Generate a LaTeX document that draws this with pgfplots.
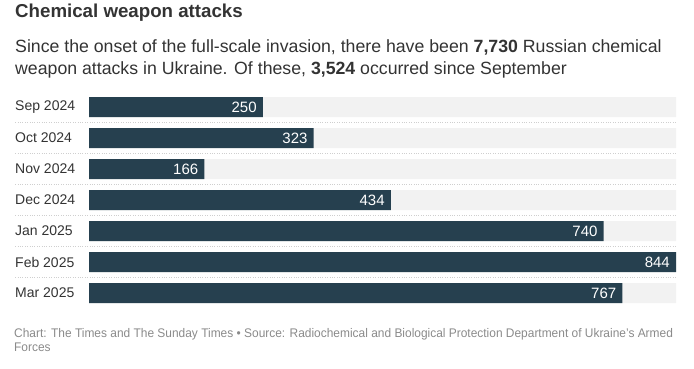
\documentclass[border=0pt]{standalone}
\usepackage{fontspec}
\setmainfont{Liberation Sans}
\newfontfamily\condfont[FakeStretch=0.955]{Liberation Sans}
\usepackage{pgfplots}
\pgfplotsset{compat=1.18}
\definecolor{barc}{HTML}{26404F}
\definecolor{bgc}{HTML}{F2F2F2}
\definecolor{sepc}{HTML}{CFCFCF}
\definecolor{txt}{HTML}{333333}
\definecolor{foot}{HTML}{8A8A8A}
\begin{document}
\begin{tikzpicture}[x=1pt,y=1pt]
\useasboundingbox (0,0) rectangle (694,-368);
\node[anchor=base west, inner sep=0, font=\fontsize{18.7}{22}\selectfont\bfseries, text=txt] at (15,-17.5) {Chemical weapon attacks};
\node[anchor=base west, inner sep=0, font=\fontsize{17.7}{21}\selectfont, text=txt] at (15,-52.5) {Since the onset of the full-scale invasion, there have been \textbf{7,730} Russian chemical};
\node[anchor=base west, inner sep=0, font=\fontsize{17.7}{21}\selectfont, text=txt] at (15,-74.5) {weapon attacks in Ukraine. Of these, \textbf{3,524} occurred since September};
\begin{axis}[at={(89pt,-91.5pt)}, anchor=north west, scale only axis,
  width=587pt, height=217pt, xmin=0, xmax=844, ymin=-0.5, ymax=6.5,
  y dir=reverse, clip=false,
  axis line style={draw=none}, major tick length=0pt,
  xtick=\empty, ytick={0,1,2,3,4,5,6},
  yticklabels={Sep 2024,Oct 2024,Nov 2024,Dec 2024,Jan 2025,Feb 2025,Mar 2025},
  yticklabel style={anchor=west, inner sep=0pt, xshift=-74pt, font=\fontsize{14}{16}\selectfont, text=txt},
  /pgf/number format/assume math mode=true,
]
\addplot[xbar, bar width=20pt, bar shift=0pt, fill=bgc, draw=none] coordinates {(844,0) (844,1) (844,2) (844,3) (844,4) (844,5) (844,6)};
\addplot[xbar, bar width=20pt, bar shift=0pt, fill=barc, draw=none,
  nodes near coords, point meta=x,
  nodes near coords style={anchor=east, inner sep=0pt, xshift=-6pt, text=white, font=\fontsize{15}{17}\selectfont, /pgf/number format/assume math mode=true}]
  coordinates {(250,0) (323,1) (166,2) (434,3) (740,4) (844,5) (767,6)};
\foreach \yy in {0.5,1.5,2.5,3.5,4.5,5.5} {
  \edef\temp{\noexpand\addplot[sepc, line width=0.7pt, dash pattern=on 0.8pt off 1.6pt] coordinates {(-106,\yy) (844,\yy)};}
  \temp
}
\end{axis}
\node[anchor=base west, inner sep=0, font=\fontsize{12.5}{14}\condfont, text=foot] at (14,-337) {Chart: The Times and The Sunday Times • Source: Radiochemical and Biological Protection Department of Ukraine’s Armed};
\node[anchor=base west, inner sep=0, font=\fontsize{12.5}{14}\condfont, text=foot] at (14,-351) {Forces};
\end{tikzpicture}
\end{document}
